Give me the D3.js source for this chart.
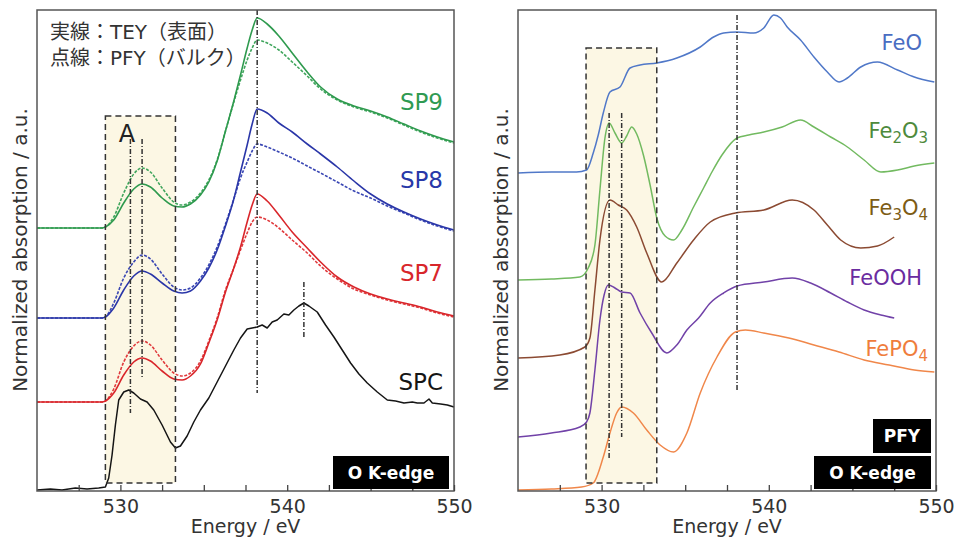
<!DOCTYPE html>
<html>
<head>
<meta charset="utf-8">
<script src="https://cdnjs.cloudflare.com/ajax/libs/d3/7.8.5/d3.min.js"></script>
<style>
body { margin: 0; background: #fff; }
svg { display: block; font-family: "DejaVu Sans", "Noto Sans CJK JP", sans-serif; }
</style>
</head>
<body>
<div id="chart"></div>
<script>
// ---- left panel: SP samples, TEY (solid) vs PFY (dashed) ----
var energySP = [525, 528.9, 529.1, 529.6, 530.2, 530.8, 531.3, 531.8, 532.5, 533.2, 533.7, 534.2, 534.8, 535.3, 535.8,
                536.3, 536.8, 537.2, 537.6, 537.9, 538.2, 538.8, 539.5, 540.3, 541.2, 542, 543, 544, 545, 546, 547, 548, 549, 550];
var sp9TEY = [2.63, 2.63, 2.64, 2.71, 2.88, 3.02, 3.07, 3.04, 2.93, 2.85, 2.84, 2.87, 2.96, 3.09, 3.30,
              3.60, 3.90, 4.16, 4.43, 4.61, 4.73, 4.67, 4.55, 4.38, 4.19, 4.04, 3.92, 3.85, 3.80, 3.74, 3.67, 3.60, 3.54, 3.49];
var sp9PFY = [2.63, 2.63, 2.64, 2.74, 2.98, 3.17, 3.23, 3.19, 3.03, 2.89, 2.86, 2.89, 2.98, 3.11, 3.31,
              3.60, 3.89, 4.11, 4.31, 4.43, 4.51, 4.48, 4.41, 4.29, 4.15, 4.02, 3.91, 3.84, 3.79, 3.73, 3.66, 3.59, 3.53, 3.48];
var sp8TEY = [1.73, 1.73, 1.74, 1.83, 2.01, 2.15, 2.20, 2.17, 2.08, 2.00, 1.98, 2.00, 2.10, 2.23, 2.41,
              2.65, 2.92, 3.19, 3.46, 3.67, 3.82, 3.78, 3.68, 3.59, 3.47, 3.37, 3.24, 3.10, 2.97, 2.87, 2.79, 2.72, 2.66, 2.61];
var sp8PFY = [1.73, 1.73, 1.74, 1.88, 2.13, 2.29, 2.36, 2.32, 2.17, 2.04, 2.01, 2.03, 2.13, 2.26, 2.44,
              2.67, 2.92, 3.13, 3.29, 3.40, 3.47, 3.44, 3.39, 3.33, 3.25, 3.18, 3.09, 3.00, 2.93, 2.85, 2.78, 2.71, 2.65, 2.60];
var sp7TEY = [0.89, 0.89, 0.90, 0.98, 1.16, 1.29, 1.33, 1.30, 1.20, 1.12, 1.11, 1.15, 1.27, 1.48, 1.71,
              1.99, 2.23, 2.44, 2.69, 2.86, 2.97, 2.90, 2.76, 2.59, 2.43, 2.29, 2.14, 2.04, 1.97, 1.92, 1.88, 1.84, 1.79, 1.75];
var sp7PFY = [0.89, 0.89, 0.90, 1.02, 1.29, 1.45, 1.50, 1.46, 1.31, 1.18, 1.15, 1.18, 1.30, 1.50, 1.73,
              2.01, 2.23, 2.41, 2.58, 2.69, 2.74, 2.71, 2.63, 2.51, 2.38, 2.25, 2.12, 2.02, 1.96, 1.91, 1.87, 1.83, 1.78, 1.74];

var energySPC = [525, 525.8, 526.5, 527.3, 528, 528.7, 529.1, 529.3, 529.5, 529.7, 529.9, 530.2, 530.5, 530.8, 531.2, 531.6,
                 532, 532.5, 533, 533.3, 533.6, 534, 534.4, 534.8, 535.3, 535.8, 536.3, 536.8, 537.2, 537.6, 537.9,
                 538.2, 538.5, 538.8, 539.1, 539.4, 539.8, 540.1, 540.4, 540.7, 541, 541.3, 541.8, 542.3, 542.8, 543.3,
                 543.8, 544.3, 544.8, 545.4, 546, 546.5, 547, 547.5, 547.8, 548.2, 548.5, 548.7, 549.2, 549.6, 550];
var spc = [0.01, 0.02, 0.01, 0.03, 0.02, 0.03, 0.04, 0.13, 0.36, 0.66, 0.91, 0.99, 1.01, 0.98, 0.92, 0.89,
           0.81, 0.66, 0.49, 0.43, 0.45, 0.55, 0.69, 0.81, 0.93, 1.09, 1.25, 1.41, 1.53, 1.62, 1.63,
           1.64, 1.66, 1.63, 1.69, 1.71, 1.77, 1.76, 1.81, 1.85, 1.88, 1.85, 1.79, 1.66, 1.54, 1.41,
           1.28, 1.17, 1.08, 0.99, 0.91, 0.90, 0.88, 0.89, 0.88, 0.88, 0.92, 0.88, 0.87, 0.86, 0.84];

// ---- right panel: reference compounds (PFY) ----
var energyFeO = [525, 527, 528.5, 529.1, 529.5, 529.8, 530.1, 530.5, 531.1, 531.7, 532.3, 533.3, 534.5, 535.9, 536.7, 537.3,
                 538.1, 539.1, 539.7, 540.3, 540.7, 541.1, 541.9, 542.7, 543.5, 544.2, 544.7, 545.5, 546.5, 547.7, 548.7, 549.9];
var feO = [3.18, 3.19, 3.19, 3.21, 3.38, 3.56, 3.78, 3.99, 4.04, 4.23, 4.26, 4.28, 4.33, 4.44, 4.54, 4.58,
           4.59, 4.58, 4.63, 4.76, 4.73, 4.64, 4.51, 4.34, 4.19, 4.09, 4.13, 4.24, 4.29, 4.21, 4.14, 4.09];

var energyFe2O3 = [525, 527, 528.7, 529.2, 529.6, 529.9, 530.2, 530.45, 530.8, 531.2, 531.5, 531.8, 532.1, 532.5, 532.9, 533.3,
                   533.8, 534.3, 534.8, 535.5, 536.1, 536.6, 537.2, 538.1, 538.8, 539.7, 540.8, 541.9, 542.7, 543.7, 544.7,
                   545.7, 546.7, 547.7, 548.7, 549.9];
var fe2O3 = [2.11, 2.12, 2.14, 2.23, 2.46, 3.01, 3.53, 3.68, 3.58, 3.48, 3.55, 3.64, 3.57, 3.36, 3.06, 2.73,
             2.55, 2.51, 2.61, 2.84, 3.03, 3.19, 3.36, 3.53, 3.56, 3.59, 3.64, 3.71, 3.64, 3.54, 3.44,
             3.31, 3.19, 3.21, 3.25, 3.28];

var energyFe3O4 = [525, 527.5, 529.0, 529.3, 529.6, 529.9, 530.5, 531.0, 531.5, 532.1, 532.7, 533.6, 534.5, 535.5, 536.5,
                   538.0, 539.7, 541.4, 542.7, 543.5, 544.3, 545.5, 546.5, 547.5];
var fe3O4 = [1.33, 1.36, 1.44, 1.53, 2.01, 2.51, 2.91, 2.86, 2.81, 2.64, 2.38, 2.09, 2.28, 2.51, 2.69,
             2.78, 2.81, 2.91, 2.81, 2.66, 2.51, 2.43, 2.45, 2.54];

var energyFeOOH = [525, 527, 528.7, 529.1, 529.3, 529.6, 529.9, 530.15, 530.4, 530.8, 531.2, 531.7, 532.3, 533.0, 533.9,
                   534.5, 535.1, 535.8, 536.5, 537.3, 538.1, 539.7, 541.4, 542.5, 543.7, 544.7, 545.7, 546.7, 547.5];
var feOOH = [0.54, 0.58, 0.64, 0.69, 0.78, 1.21, 1.71, 1.96, 2.06, 2.03, 1.99, 1.98, 1.78, 1.58, 1.38,
             1.46, 1.61, 1.73, 1.88, 1.98, 2.05, 2.09, 2.13, 2.08, 1.98, 1.89, 1.81, 1.76, 1.73];

var energyFePO4 = [525, 527, 528.8, 529.5, 530.1, 530.5, 530.9, 531.2, 531.9, 532.7, 533.5, 534.3, 535.1, 535.9, 536.9,
                   538.0, 538.6, 539.7, 541.2, 542.7, 544.2, 545.7, 547.2, 548.7, 549.9];
var fePO4 = [0.01, 0.02, 0.04, 0.08, 0.34, 0.58, 0.78, 0.84, 0.78, 0.61, 0.46, 0.39, 0.58, 0.98, 1.34,
             1.59, 1.61, 1.58, 1.53, 1.46, 1.39, 1.31, 1.26, 1.21, 1.19];

// reference lines [energy, top value, bottom value]
var markersLeft = [[530.6, 3.52, 0.78], [531.3, 3.52, 1.13], [538.2, 4.81, 0.98], [541.0, 2.09, 1.54]];
var markersRight = [[530.45, 3.78, 0.33], [531.2, 3.78, 0.54], [538.1, 4.76, 0.99]];
// region A [from eV, to eV, top, bottom]
var regionLeft = [529.1, 533.3, 3.75, 0.08];
var regionRight = [529.07, 533.3, 4.43, 0.08];

var xTicks = [527.5, 530, 532.5, 535, 537.5, 540, 542.5, 545, 547.5, 550];

var svg = d3.select('#chart').append('svg')
    .attr('width', 959)
    .attr('height', 542);
svg.append('rect').attr('width', 959).attr('height', 542).attr('fill', '#fff');

var TOP = 10, BOTTOM = 491;

function drawPanel(cfg) {
    var g = svg.append('g');
    var x = d3.scaleLinear().domain([525, 550]).range([cfg.left, cfg.right]);
    var y = d3.scaleLinear().domain([0, 4.8]).range([BOTTOM, 11]);

    var r = cfg.region;
    g.append('rect')
        .attr('x', x(r[0])).attr('y', y(r[2]))
        .attr('width', x(r[1]) - x(r[0])).attr('height', y(r[3]) - y(r[2]))
        .attr('fill', '#fcf7e4');

    cfg.series.forEach(function(s) {
        var pts = s.e.map(function(e, i) { return [e, s.v[i]]; });
        var line = d3.line()
            .x(function(d) { return x(d[0]); })
            .y(function(d) { return y(d[1]); })
            .curve(s.jagged ? d3.curveLinear : d3.curveMonotoneX);
        g.append('path')
            .datum(pts)
            .attr('d', line)
            .attr('fill', 'none')
            .attr('stroke', s.color)
            .attr('stroke-width', s.w || 1.6)
            .attr('stroke-dasharray', s.dash || null)
            .attr('stroke-linejoin', 'round');
    });

    // dashed region border
    g.append('rect')
        .attr('x', x(r[0])).attr('y', y(r[2]))
        .attr('width', x(r[1]) - x(r[0])).attr('height', y(r[3]) - y(r[2]))
        .attr('fill', 'none')
        .attr('stroke', '#333')
        .attr('stroke-width', 1.5)
        .attr('stroke-dasharray', '6,4');

    g.selectAll('line.marker')
        .data(cfg.markers)
        .enter()
        .append('line')
        .attr('class', 'marker')
        .attr('x1', function(d) { return x(d[0]); })
        .attr('x2', function(d) { return x(d[0]); })
        .attr('y1', function(d) { return y(d[1]); })
        .attr('y2', function(d) { return y(d[2]); })
        .attr('stroke', '#333')
        .attr('stroke-width', 1.5)
        .attr('stroke-dasharray', '5,2,1,2');

    // frame
    g.append('rect')
        .attr('x', cfg.left).attr('y', TOP)
        .attr('width', cfg.right - cfg.left).attr('height', BOTTOM - TOP)
        .attr('fill', 'none')
        .attr('stroke', '#555')
        .attr('stroke-width', 1.5);

    var axis = d3.axisBottom(x)
        .tickValues(xTicks)
        .tickSize(-6)
        .tickPadding(9)
        .tickFormat(function(d) { return d % 10 === 0 ? d : ''; });
    var ax = g.append('g')
        .attr('transform', 'translate(0,' + BOTTOM + ')')
        .call(axis);
    ax.select('.domain').remove();
    ax.selectAll('.tick line').attr('stroke', '#444').attr('stroke-width', 1.3);
    ax.selectAll('.tick text')
        .attr('fill', '#333')
        .style('font-size', '19px')
        .style('font-family', '"DejaVu Sans", sans-serif');

    g.append('text')
        .attr('x', (cfg.left + cfg.right) / 2 + 0)
        .attr('y', 533)
        .attr('text-anchor', 'middle')
        .attr('fill', '#333')
        .style('font-size', '19px')
        .text('Energy / eV');

    g.append('text')
        .attr('transform', 'translate(' + (cfg.left - 17) + ',250) rotate(-90)')
        .attr('text-anchor', 'middle')
        .attr('dy', '0.36em')
        .attr('fill', '#333')
        .style('font-size', '20px')
        .text('Normalized absorption / a.u.');

    cfg.labels.forEach(function(l) {
        var t = g.append('text')
            .attr('x', l.x)
            .attr('y', l.y)
            .attr('text-anchor', 'end')
            .attr('fill', l.color)
            .style('font-size', l.size + 'px');
        l.parts.forEach(function(p) {
            if (p[1]) {
                t.append('tspan').attr('dy', 5).style('font-size', (l.size - 6) + 'px').text(p[0]);
            } else {
                t.append('tspan').attr('dy', p[2] ? -5 : 0).text(p[0]);
            }
        });
    });

    cfg.tags.forEach(function(tg) {
        g.append('rect')
            .attr('x', tg.x).attr('y', tg.y)
            .attr('width', tg.w).attr('height', tg.h)
            .attr('fill', '#000');
        g.append('text')
            .attr('x', tg.x + tg.w / 2)
            .attr('y', tg.y + tg.h / 2)
            .attr('dy', '0.36em')
            .attr('text-anchor', 'middle')
            .attr('fill', '#fff')
            .style('font-size', '17px')
            .style('font-weight', 'bold')
            .text(tg.text);
    });
    return g;
}

var left = drawPanel({
    left: 37, right: 454,
    region: regionLeft,
    markers: markersLeft,
    series: [
        {e: energySPC, v: spc, color: '#151515', jagged: true, w: 1.5},
        {e: energySP, v: sp7PFY, color: '#e0393c', dash: '3,1.5'},
        {e: energySP, v: sp7TEY, color: '#d9262b'},
        {e: energySP, v: sp8PFY, color: '#3a47b4', dash: '3,1.5'},
        {e: energySP, v: sp8TEY, color: '#2a36a8'},
        {e: energySP, v: sp9PFY, color: '#3fa55c', dash: '3,1.5'},
        {e: energySP, v: sp9TEY, color: '#2e9a4e'}
    ],
    labels: [
        {x: 443, y: 110, color: '#2f9a52', size: 23, parts: [['SP9']]},
        {x: 443, y: 188, color: '#2838a8', size: 23, parts: [['SP8']]},
        {x: 443, y: 281, color: '#d8262b', size: 23, parts: [['SP7']]},
        {x: 443, y: 390, color: '#151515', size: 23, parts: [['SPC']]}
    ],
    tags: [{x: 333, y: 456, w: 116, h: 33, text: 'O K-edge'}]
});

left.append('text').attr('x', 50).attr('y', 39).attr('fill', '#333')
    .style('font-size', '20px').text('実線：TEY（表面）');
left.append('text').attr('x', 50).attr('y', 65).attr('fill', '#333')
    .style('font-size', '20px').text('点線：PFY（バルク）');
left.append('text').attr('x', 127).attr('y', 142).attr('text-anchor', 'middle').attr('fill', '#222')
    .style('font-size', '24px').text('A');

drawPanel({
    left: 518, right: 936,
    region: regionRight,
    markers: markersRight,
    series: [
        {e: energyFePO4, v: fePO4, color: '#f0874a', w: 1.5},
        {e: energyFeOOH, v: feOOH, color: '#7142a8', w: 1.5},
        {e: energyFe3O4, v: fe3O4, color: '#8b4a32', w: 1.5},
        {e: energyFe2O3, v: fe2O3, color: '#72ba60', w: 1.5},
        {e: energyFeO, v: feO, color: '#5078c8', w: 1.5}
    ],
    labels: [
        {x: 922, y: 50, color: '#4a6dc2', size: 21, parts: [['FeO']]},
        {x: 928, y: 138, color: '#4e8a3c', size: 21, parts: [['Fe'], ['2', true], ['O', false, true], ['3', true]]},
        {x: 928, y: 215, color: '#7d5c15', size: 21, parts: [['Fe'], ['3', true], ['O', false, true], ['4', true]]},
        {x: 922, y: 285, color: '#6a2ca0', size: 21, parts: [['FeOOH']]},
        {x: 928, y: 356, color: '#ef7d3c', size: 21, parts: [['FePO'], ['4', true]]}
    ],
    tags: [
        {x: 873, y: 419, w: 58, h: 34, text: 'PFY'},
        {x: 814, y: 456, w: 117, h: 33, text: 'O K-edge'}
    ]
});
</script>
</body>
</html>
